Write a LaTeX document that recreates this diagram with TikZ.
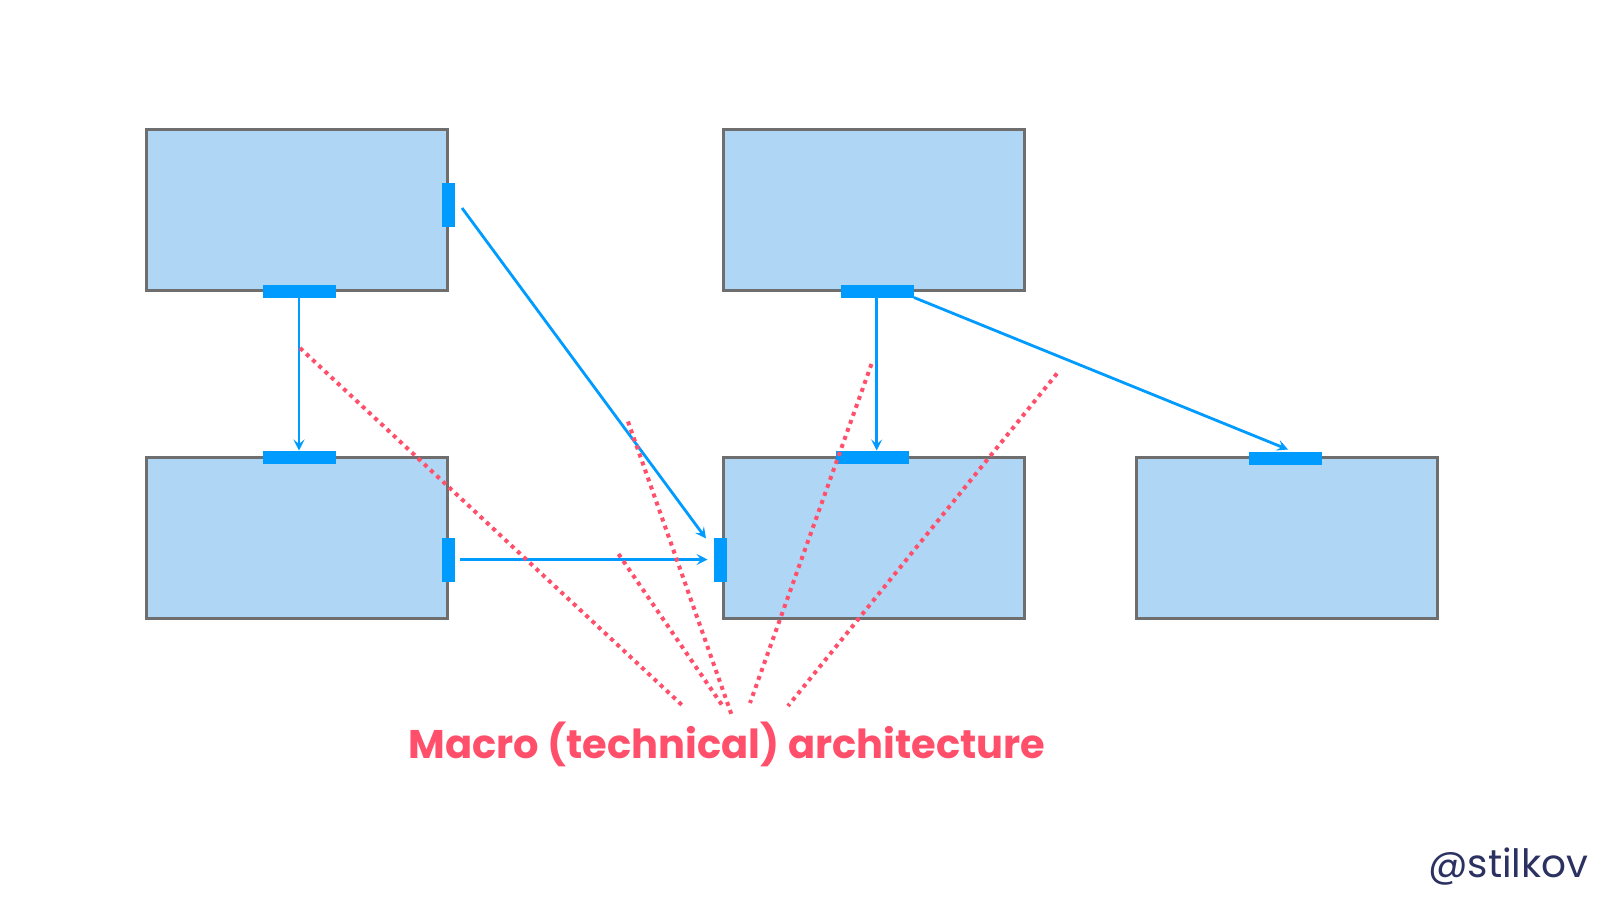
\documentclass[tikz,border=0pt]{standalone}
\usepackage{fontspec}
\setmainfont{Poppins}
\usetikzlibrary{arrows.meta,calc}
\definecolor{boxfill}{HTML}{B0D6F5}
\definecolor{boxline}{HTML}{6E6E6E}
\definecolor{portblue}{HTML}{009BFF}
\definecolor{macrored}{HTML}{FF4F6A}
\definecolor{navy}{HTML}{2B3160}
\begin{document}
\begin{tikzpicture}[x=1pt,y=-1pt,
 box/.style={draw=boxline, line width=3pt, fill=boxfill, minimum width=301pt, minimum height=161pt, inner sep=0pt, outer sep=0pt},
 hport/.style={fill=portblue, minimum width=73pt, minimum height=13pt, inner sep=0pt, outer sep=0pt},
 vport/.style={fill=portblue, minimum width=13pt, minimum height=44pt, inner sep=0pt, outer sep=0pt},
 link/.style={draw=portblue, line width=2.8pt, -{Stealth[length=11pt,width=11pt,inset=4.5pt]}},
 macro/.style={draw=macrored, line width=4pt, dash pattern=on 4pt off 4.5pt},
]
\useasboundingbox[fill=white] (0,0) rectangle (1600,900);
% boxes
\node[box] (A) at (297,210) {};
\node[box] (B) at (873.5,210) {};
\node[box] (C) at (297,537.5) {};
\node[box] (D) at (873.5,537.5) {};
\node[box] (E) at (1286.5,537.5) {};
% ports
\node[vport] (pAr) at (448,205) {};
\node[hport] (pAb) at (299,291) {};
\node[hport] (pCt) at (299,457) {};
\node[vport] (pCr) at (448,559.5) {};
\node[vport] (pDl) at (720,559.5) {};
\node[hport] (pDt) at (872.5,457) {};
\node[hport] (pBb) at (877.5,291) {};
\node[hport] (pEt) at (1285,458) {};
% links
\draw[link] (pAb.south) -- (pCt.north);
\draw[link] ($(pAr.center)+(14,3)$) -- ($(pDl.center)+(-14,-21)$);
\draw[link, shorten <=5pt, shorten >=6pt] (pCr.east) -- (pDl.west);
\draw[link] ([xshift=-0.8pt]pBb.south) -- ([xshift=-0.8pt]pBb.south |- pDt.north);
\draw[link] (pBb.south east) -- ($(pEt.north)+(3,-2)$);
% macro lines
\coordinate (m1s) at (300,348);   \coordinate (m1e) at (683,706);
\coordinate (m2s) at (618.5,554); \coordinate (m2e) at (722,705);
\coordinate (m3s) at (628,421.5); \coordinate (m3e) at (732,716);
\coordinate (m4s) at (871.5,364); \coordinate (m4e) at (750,703);
\coordinate (m5s) at (1057,373.5);\coordinate (m5e) at (788,706);
\foreach \i in {1,...,5} \draw[macro] (m\i s) -- (m\i e);
% labels
\node[text=macrored, font=\bfseries\fontsize{40}{48}\selectfont, anchor=base, inner sep=0pt] (label) at (727,758) {Macro (technical) architecture};
\node[text=navy, font=\fontsize{39}{46}\selectfont, anchor=base west, inner sep=0pt] (handle) at (1428,877) {@stilkov};
\end{tikzpicture}
\end{document}
